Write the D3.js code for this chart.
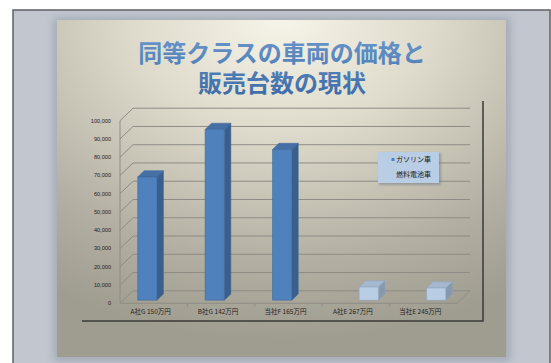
<!DOCTYPE html>
<html>
<head>
<meta charset="utf-8">
<script src="https://cdn.jsdelivr.net/npm/d3@7"></script>
<style>
  body { margin: 0; background: #fff; }
  svg { display: block; }
</style>
</head>
<body>
<div id="chart"></div>
<script>
// chart data
var categories = ['A社G 150万円', 'B社G 142万円', '当社F 165万円', 'A社E 267万円', '当社E 245万円'];
var seriesNames = ['ガソリン車', '燃料電池車'];
var gasoline = [67500, 93500, 82500, 0, 0];
var fuelCell = [0, 0, 0, 7200, 6700];
var yTicks = [0, 10000, 20000, 30000, 40000, 50000, 60000, 70000, 80000, 90000, 100000];
var titleLines = ['同等クラスの車両の価格と', '販売台数の現状'];

var W = 551, H = 363;
var svg = d3.select('#chart').append('svg')
    .attr('width', W)
    .attr('height', H);

var defs = svg.append('defs');

var bg = defs.append('radialGradient')
    .attr('id', 'slideBg')
    .attr('cx', '50%').attr('cy', '0%').attr('r', '95%')
    .attr('fx', '50%').attr('fy', '0%');
bg.append('stop').attr('offset', '0').attr('stop-color', '#f6f4e8');
bg.append('stop').attr('offset', '0.35').attr('stop-color', '#dedbcc');
bg.append('stop').attr('offset', '0.75').attr('stop-color', '#b3b0a3');
bg.append('stop').attr('offset', '1').attr('stop-color', '#9f9c90');

var tg = defs.append('linearGradient')
    .attr('id', 'titleGrad')
    .attr('x1', 0).attr('y1', 0).attr('x2', 0).attr('y2', 1);
tg.append('stop').attr('offset', '0').attr('stop-color', '#6a97cc');
tg.append('stop').attr('offset', '1').attr('stop-color', '#3a6aa6');

var blur = defs.append('filter').attr('id', 'blur')
    .attr('x', '-10%').attr('y', '-10%').attr('width', '120%').attr('height', '120%');
blur.append('feGaussianBlur').attr('stdDeviation', 4);
var blurSmall = defs.append('filter').attr('id', 'blurSmall')
    .attr('x', '-20%').attr('y', '-20%').attr('width', '140%').attr('height', '140%');
blurSmall.append('feGaussianBlur').attr('stdDeviation', 1);

// outer frame
svg.append('rect')
    .attr('x', 13).attr('y', 10)
    .attr('width', 537).attr('height', 360)
    .attr('fill', '#c1c6cf')
    .attr('stroke', '#5f6063')
    .attr('stroke-width', 1.5);

// slide with shadow
svg.append('rect')
    .attr('x', 54).attr('y', 18)
    .attr('width', 456).attr('height', 343)
    .attr('fill', '#8d95a3')
    .attr('opacity', 0.6)
    .attr('filter', 'url(#blur)');
svg.append('rect')
    .attr('x', 57).attr('y', 20)
    .attr('width', 449).attr('height', 337)
    .attr('fill', 'url(#slideBg)');

// title, one text wrapped on two lines
svg.append('text')
    .attr('text-anchor', 'middle')
    .attr('font-family', '"Noto Sans CJK JP", sans-serif')
    .attr('font-weight', 'bold')
    .attr('font-size', '24px')
    .attr('fill', 'url(#titleGrad)')
    .selectAll('tspan')
    .data(titleLines)
    .enter()
    .append('tspan')
    .attr('x', 282)
    .attr('y', function(d, i) { return 62 + i * 30; })
    .text(function(d) { return d; });

// chart area border (right and bottom)
svg.append('path')
    .attr('d', 'M483,101 L483,321 L82,321')
    .attr('stroke', '#3a3a3a')
    .attr('stroke-width', 1.5)
    .attr('fill', 'none');

// 3D projection
var depthX = 13, depthY = -12.5;
function P(x, y, z) { return [x + depthX * z, y + depthY * z]; }

var x0 = d3.scaleBand().domain(categories).range([120, 457]).padding(0);
var x1 = d3.scaleBand().domain(seriesNames).range([0, x0.bandwidth()])
    .paddingInner(0).paddingOuter(0.75);
var y = d3.scaleLinear().domain([0, 100000]).range([303.3, 120.7]);

var grid = svg.append('g')
    .attr('stroke', '#8e8c84')
    .attr('stroke-width', 1)
    .attr('fill', 'none');

yTicks.forEach(function(t) {
    var a = P(120, y(t), 0), b = P(120, y(t), 1), c = P(457, y(t), 1);
    grid.append('path').attr('d', 'M' + a + 'L' + b + 'L' + c);
});
// floor front and right edge, left axis
var f0 = P(120, y(0), 0), f1 = P(457, y(0), 0), f2 = P(457, y(0), 1);
grid.append('path').attr('d', 'M' + f0 + 'L' + f1 + 'L' + f2);
grid.append('path').attr('d', 'M' + P(120, y(0), 0) + 'L' + P(120, y(100000), 0));
categories.forEach(function(c, i) {
    var xx = x0(c);
    if (i > 0) grid.append('path').attr('d', 'M' + xx + ',' + y(0) + 'L' + xx + ',' + (y(0) + 3));
});

// y labels
svg.append('g').selectAll('text')
    .data(yTicks)
    .enter()
    .append('text')
    .attr('x', 111)
    .attr('y', function(d) { return y(d); })
    .attr('dy', '0.35em')
    .attr('text-anchor', 'end')
    .attr('font-family', 'Liberation Sans, Arial, sans-serif')
    .attr('font-size', '5.6px')
    .attr('fill', '#222')
    .text(d3.format(','));

// category labels
svg.append('g').selectAll('text')
    .data(categories)
    .enter()
    .append('text')
    .attr('x', function(d) { return x0(d) + x0.bandwidth() / 2 - 3; })
    .attr('y', 314)
    .attr('text-anchor', 'middle')
    .attr('font-family', '"Noto Sans CJK JP", sans-serif')
    .attr('font-size', '6.5px')
    .attr('fill', '#222')
    .text(function(d) { return d; });

// bars
var colors = {
    'ガソリン車': { front: '#4f81bd', side: '#3b5f8c', top: '#4470a6', edge: '#3a6596' },
    '燃料電池車': { front: '#b9cde5', side: '#8799af', top: '#a5b8d0', edge: '#8fa3bb' }
};
var barData = [];
categories.forEach(function(c, i) {
    barData.push({ cat: c, series: seriesNames[0], value: gasoline[i] });
    barData.push({ cat: c, series: seriesNames[1], value: fuelCell[i] });
});
barData = barData.filter(function(d) { return d.value > 0; });

var z0 = 0.25, z1 = 0.75;
var bars = svg.append('g').selectAll('g')
    .data(barData)
    .enter()
    .append('g')
    .attr('stroke-width', 0.5)
    .attr('stroke-linejoin', 'round');

bars.each(function(d) {
    var g = d3.select(this);
    var col = colors[d.series];
    var xl = x0(d.cat) + x1(d.series), xr = xl + x1.bandwidth();
    var yt = y(d.value), yb = y(0);
    var line = d3.line();
    // side face
    g.append('path')
        .attr('d', line([P(xr, yb, z0), P(xr, yb, z1), P(xr, yt, z1), P(xr, yt, z0)]) + 'Z')
        .attr('fill', col.side).attr('stroke', col.edge);
    // top face
    g.append('path')
        .attr('d', line([P(xl, yt, z0), P(xr, yt, z0), P(xr, yt, z1), P(xl, yt, z1)]) + 'Z')
        .attr('fill', col.top).attr('stroke', col.edge);
    // front face
    g.append('path')
        .attr('d', line([P(xl, yb, z0), P(xr, yb, z0), P(xr, yt, z0), P(xl, yt, z0)]) + 'Z')
        .attr('fill', col.front).attr('stroke', col.edge);
});

// legend
var legend = svg.append('g');
legend.append('rect')
    .attr('x', 379).attr('y', 153)
    .attr('width', 62).attr('height', 32)
    .attr('fill', '#6d7380').attr('opacity', 0.5)
    .attr('filter', 'url(#blurSmall)');
legend.append('rect')
    .attr('x', 378).attr('y', 152)
    .attr('width', 61).attr('height', 31)
    .attr('fill', '#b9cde5');
seriesNames.forEach(function(s, i) {
    var ly = 159.5 + i * 15.5;
    legend.append('rect')
        .attr('x', 391.5).attr('y', ly - 1.5)
        .attr('width', 3).attr('height', 3)
        .attr('fill', colors[s].front);
    legend.append('text')
        .attr('x', 396).attr('y', ly)
        .attr('dy', '0.35em')
        .attr('font-family', '"Noto Sans CJK JP", sans-serif')
        .attr('font-size', '7px')
        .attr('fill', '#222')
        .text(s);
});
</script>
</body>
</html>
